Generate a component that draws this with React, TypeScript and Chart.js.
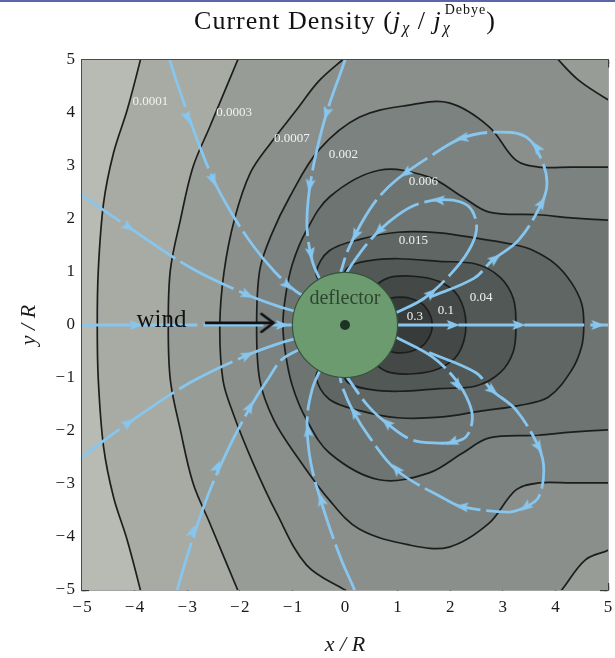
import React, { useEffect, useRef } from 'react';
import { Chart, registerables } from 'chart.js';

Chart.register(...registerables);

// ---------------- data ----------------
const MAJOR_TICKS = [-5, -4, -3, -2, -1, 0, 1, 2, 3, 4, 5];
const MINOR_TICKS = [-5, -4.5, -4, -3.5, -3, -2.5, -2, -1.5, -1, -0.5, 0, 0.5, 1, 1.5, 2, 2.5, 3, 3.5, 4, 4.5, 5];

const LEVEL_LABELS = ['0.0001', '0.0003', '0.0007', '0.002', '0.006', '0.015', '0.04', '0.1', '0.3'];
const LEVEL_LABEL_X = [-3.7, -2.11, -1.01, -0.03, 1.49, 1.3, 2.59, 1.92, 1.33];
const LEVEL_LABEL_Y = [4.21, 4.0, 3.51, 3.21, 2.7, 1.6, 0.51, 0.28, 0.15];

// region colours, outermost (lightest) to innermost (darkest)
const REGION_COLORS = ['#b7bbb3', '#a7aba4', '#989c97', '#8a8f8b', '#7c8280', '#6e7472', '#606664', '#525856', '#444948', '#373c3b'];

const FRAME = [[-6, 6], [6, 6], [6, -6], [-6, -6]];

const C1 = [[-3.85, 5.2], [-3.89, 5], [-4.14, 4.06], [-4.4, 3.25], [-4.59, 2.3], [-4.69, 1.04], [-4.71, 0], [-4.69, -1.04], [-4.59, -2.3], [-4.4, -3.25], [-4.14, -4.06], [-3.89, -5], [-3.85, -5.2]];
const C2 = [[-1.95, 5.2], [-2.04, 5], [-2.57, 3.74], [-2.89, 2.98], [-3.13, 1.98], [-3.32, 1.04], [-3.36, 0], [-3.32, -1.04], [-3.13, -1.98], [-2.89, -2.98], [-2.57, -3.74], [-2.04, -5], [-1.95, -5.2]];
const C3_ARC = [[0.15, 5.15], [-0.05, 5], [-0.5, 4.6], [-0.92, 4.06], [-1.4, 3.45], [-1.8, 2.87], [-2.1, 2.0], [-2.3, 1.0], [-2.38, 0], [-2.32, -1.04], [-2.13, -1.66], [-1.75, -2.6], [-1.3, -3.55], [-0.73, -4.53], [0, -5], [0.3, -5.15]];
const C3_CORNER_BOTTOM = [[3.95, -5.2], [4.12, -5], [4.57, -4.43], [5, -4.25], [5.3, -4.1]];
const C3_CORNER_TOP = [[5.3, 4.1], [5, 4.25], [4.44, 4.62], [4.06, 5], [3.9, 5.2]];
const C4 = [[5.3, 2.98], [5, 2.98], [4.3, 2.98], [3.68, 2.98], [3.25, 3.11], [2.74, 3.74], [1.98, 4.19], [1.22, 4.15], [0.27, 3.92], [-0.5, 3.3], [-1.05, 2.42], [-1.4, 1.7], [-1.62, 1.04], [-1.68, 0], [-1.62, -1.04], [-1.35, -1.8], [-0.9, -2.5], [-0.3, -3.3], [0.27, -3.85], [1.22, -4.15], [1.98, -4.19], [2.74, -3.74], [3.25, -3.11], [3.68, -2.98], [4.3, -2.98], [5, -2.98], [5.3, -2.98]];
const C5 = [[5.3, 1.98], [5, 1.98], [4.3, 2.02], [3.68, 2.08], [2.74, 2.13], [2.23, 2.42], [1.6, 2.79], [0.65, 2.92], [-0.29, 2.42], [-0.75, 1.75], [-1.0, 1.15], [-1.13, 0.55], [-1.18, 0], [-1.13, -0.55], [-1.0, -1.15], [-0.75, -1.75], [-0.29, -2.42], [0.65, -2.92], [1.6, -2.79], [2.23, -2.42], [2.74, -2.13], [3.68, -2.08], [4.3, -2.02], [5, -1.98], [5.3, -1.98]];
const C6 = [[-0.4, 0.7], [-0.55, 0.98], [-0.3, 1.4], [0.3, 1.62], [1.0, 1.75], [1.8, 1.74], [2.6, 1.62], [3.2, 1.52], [3.55, 1.42], [4.0, 1.15], [4.31, 0.79], [4.5, 0.4], [4.54, 0], [4.5, -0.4], [4.31, -0.85], [3.87, -1.36], [3.3, -1.52], [2.6, -1.62], [1.8, -1.74], [1.0, -1.75], [0.3, -1.62], [-0.3, -1.4], [-0.55, -0.98], [-0.4, -0.7]];
const C7 = [[-0.1, 0.7], [0.05, 1.08], [0.5, 1.22], [1.03, 1.25], [1.79, 1.2], [2.49, 1.15], [2.95, 0.9], [3.2, 0.5], [3.25, 0], [3.2, -0.5], [2.95, -0.9], [2.49, -1.15], [1.79, -1.2], [1.03, -1.25], [0.5, -1.22], [0.05, -1.08], [-0.1, -0.7]];
const C8 = [[0.4, 0.6], [0.8, 0.88], [1.3, 0.92], [1.79, 0.82], [2.15, 0.55], [2.3, 0], [2.15, -0.55], [1.79, -0.82], [1.3, -0.92], [0.8, -0.88], [0.4, -0.6]];
const C9 = [[0.7, 0.45], [0.95, 0.52], [1.25, 0.5], [1.52, 0.35], [1.66, 0], [1.52, -0.35], [1.25, -0.5], [0.95, -0.52], [0.7, -0.45]];

// streamlines (in flow order) and arrow-head positions on them
const S_A = [[-3.36, 5.2], [-3.33, 5], [-3.1, 4.3], [-2.85, 3.6], [-2.5, 2.74], [-2.15, 2.1], [-1.75, 1.5], [-1.35, 1.02], [-0.95, 0.65], [-0.7, 0.5]];
const S_B = [[0.05, 5.2], [0, 5], [-0.35, 4.0], [-0.58, 3.1], [-0.7, 2.36], [-0.72, 1.8], [-0.62, 1.2], [-0.45, 0.8]];
const S_C = [[-5.2, 2.6], [-5, 2.45], [-4.12, 1.85], [-2.95, 1.09], [-1.86, 0.57], [-1.2, 0.33], [-0.8, 0.22]];
const S_D = [[-5.2, 0], [-0.9, 0]];
const S_C2 = [[-5.2, -2.64], [-5, -2.49], [-4.12, -1.85], [-2.95, -1.09], [-1.86, -0.57], [-1.2, -0.33], [-0.8, -0.22]];
const S_A2 = [[-3.24, -5.2], [-3.19, -5], [-2.95, -4.2], [-2.6, -3.2], [-2.2, -2.3], [-1.8, -1.55], [-1.45, -1.0], [-1.2, -0.65], [-0.85, -0.45]];
const S_B2 = [[0.22, -5.2], [0.18, -5], [-0.07, -4.43], [-0.4, -3.5], [-0.65, -2.6], [-0.72, -1.8], [-0.62, -1.2], [-0.45, -0.8]];
const S_E = [[0.9, 0], [5.2, 0]];
const S_LOOP1_TOP = [[0.95, 0.22], [1.5, 0.5], [2.0, 0.95], [2.35, 1.4], [2.5, 1.8], [2.42, 2.15], [2.2, 2.32], [1.78, 2.36], [1.3, 2.25], [0.84, 1.95], [0.46, 1.58], [0.1, 1.1], [0.0, 0.92]];
const S_LOOP2_TOP = [[1.6, 0.52], [2.45, 0.88], [2.8, 1.22], [3.3, 1.6], [3.74, 2.3], [3.84, 2.68], [3.74, 3.11], [3.44, 3.55], [2.87, 3.64], [2.23, 3.53], [1.6, 3.17], [0.98, 2.74], [0.6, 2.36], [0.3, 1.9], [0.05, 1.4], [-0.08, 1.0]];
const S_LOOP1_BOT = [[0.95, -0.22], [1.66, -0.6], [2.11, -1.04], [2.36, -1.47], [2.42, -1.79], [2.3, -2.11], [2.04, -2.21], [1.79, -2.23], [1.28, -2.17], [0.84, -1.89], [0.46, -1.55], [0.08, -1.04], [0.0, -0.9]];
const S_LOOP2_BOT = [[1.6, -0.52], [2.49, -0.9], [2.79, -1.23], [3.25, -1.6], [3.68, -2.3], [3.78, -2.74], [3.68, -3.25], [3.44, -3.43], [3.12, -3.53], [2.23, -3.43], [1.93, -3.3], [0.98, -2.74], [0.46, -2.11], [0.14, -1.6], [-0.05, -1.17], [-0.1, -0.95]];

const STREAMLINES = [S_A, S_B, S_C, S_D, S_C2, S_A2, S_B2, S_E, S_LOOP1_TOP, S_LOOP2_TOP, S_LOOP1_BOT, S_LOOP2_BOT];
const ARROWS = [
  [[-3.0, 3.92], [-2.51, 2.74], [-1.1, 0.75]],
  [[-0.35, 4.0], [-0.67, 2.64], [-0.65, 1.35]],
  [[-4.12, 1.85], [-1.86, 0.57]],
  [[-3.98, 0], [-1.2, 0]],
  [[-4.12, -1.85], [-1.86, -0.57]],
  [[-2.9, -3.9], [-2.43, -2.68], [-1.81, -1.55]],
  [[-0.45, -3.3], [-0.7, -2.0]],
  [[2.05, 0], [3.3, 0], [4.8, 0]],
  [[1.64, 0.6], [1.78, 2.36], [0.65, 1.78]],
  [[2.85, 1.25], [3.74, 2.3], [3.65, 3.35], [2.23, 3.53], [1.16, 2.87], [0.2, 1.7]],
  [[2.13, -1.13], [2.04, -2.21], [0.8, -1.85]],
  [[2.8, -1.23], [3.68, -2.3], [3.44, -3.43], [2.23, -3.43], [0.98, -2.72], [0.18, -1.65]],
];

const WIND_ARROW = [[-2.66, 0.04], [-1.36, 0.04]];
const WIND_LABEL = { text: 'wind', x: -3.49, y: 0.09 };
const DEFLECTOR = { x: 0, y: 0, r: 1 };
const DEFLECTOR_LABEL = { text: 'deflector', x: 0, y: 0.49 };

const SERIF = '"Liberation Serif", "DejaVu Serif", serif';
const STREAM_COLOR = '#86c6ef';

// ---------------- helpers ----------------
const toXY = (a: number[][]) => a.map(([x, y]) => ({ x, y }));
const fmt = (v: number) => (v < 0 ? '\u2212\u200a' + Math.abs(v) : String(v));

function directionAt(line: number[][], p: number[]) {
  let best = 0;
  let bestD = Infinity;
  for (let i = 0; i < line.length - 1; i++) {
    const [x1, y1] = line[i];
    const [x2, y2] = line[i + 1];
    const dx = x2 - x1, dy = y2 - y1;
    const L = dx * dx + dy * dy || 1;
    let t = ((p[0] - x1) * dx + (p[1] - y1) * dy) / L;
    t = Math.max(0, Math.min(1, t));
    const qx = x1 + t * dx - p[0], qy = y1 + t * dy - p[1];
    const d = qx * qx + qy * qy;
    if (d < bestD) { bestD = d; best = i; }
  }
  const [x1, y1] = line[best];
  const [x2, y2] = line[best + 1];
  return (Math.atan2(x2 - x1, y2 - y1) * 180) / Math.PI;
}

function makeArrowHead(color: string) {
  const c = document.createElement('canvas');
  c.width = 12; c.height = 14;
  const g = c.getContext('2d')!;
  g.fillStyle = color;
  g.beginPath();
  g.moveTo(6, 0);
  g.lineTo(11, 13);
  g.lineTo(6, 10.5);
  g.lineTo(1, 13);
  g.closePath();
  g.fill();
  return c;
}

function makeChevron() {
  const c = document.createElement('canvas');
  c.width = 28; c.height = 28;
  const g = c.getContext('2d')!;
  g.strokeStyle = '#111';
  g.lineWidth = 2.6;
  g.lineCap = 'round';
  g.beginPath();
  g.moveTo(5, 26);
  g.lineTo(14, 14);
  g.lineTo(23, 26);
  g.stroke();
  return c;
}

function drawTitle(ctx: CanvasRenderingContext2D, cx: number, base: number) {
  const main = `26px ${SERIF}`;
  const ital = `italic 26px ${SERIF}`;
  const sub = `italic 16px ${SERIF}`;
  const sup = `14px ${SERIF}`;
  type Run = { t: string; f: string; dy: number; sup?: string };
  const runs: Run[] = [
    { t: 'Current Density (', f: main, dy: 0 },
    { t: 'j', f: ital, dy: 0 },
    { t: '\u03c7', f: sub, dy: 4 },
    { t: ' / ', f: main, dy: 0 },
    { t: 'j', f: ital, dy: 0 },
    { t: '\u03c7', f: sub, dy: 4, sup: 'Debye' },
    { t: ')', f: main, dy: 0 },
  ];
  (ctx as any).letterSpacing = '1px';
  const widths = runs.map((r) => {
    ctx.font = r.f;
    let w = ctx.measureText(r.t).width;
    if (r.sup) { ctx.font = sup; w = Math.max(w, ctx.measureText(r.sup).width + 2); }
    return w + (r.t === 'j' ? 1 : 0);
  });
  const total = widths.reduce((a, b) => a + b, 0);
  let x = cx - total / 2;
  ctx.fillStyle = '#111';
  ctx.textAlign = 'left';
  ctx.textBaseline = 'alphabetic';
  runs.forEach((r, i) => {
    ctx.font = r.f;
    ctx.fillText(r.t, x, base + r.dy);
    if (r.sup) { ctx.font = sup; ctx.fillText(r.sup, x + 2, base - 15); }
    x += widths[i];
  });
  (ctx as any).letterSpacing = '0px';
}

const textPlugin = {
  id: 'textLabels',
  afterDatasetsDraw(chart: any) {
    const { ctx, scales } = chart;
    const sx = scales.x, sy = scales.y;
    ctx.save();
    ctx.textAlign = 'center';
    ctx.textBaseline = 'middle';
    ctx.font = `13px ${SERIF}`;
    ctx.fillStyle = '#f2f2f2';
    LEVEL_LABELS.forEach((t, i) => {
      ctx.fillText(t, sx.getPixelForValue(LEVEL_LABEL_X[i]), sy.getPixelForValue(LEVEL_LABEL_Y[i]));
    });
    ctx.font = `25px ${SERIF}`;
    ctx.fillStyle = '#111';
    ctx.fillText(WIND_LABEL.text, sx.getPixelForValue(WIND_LABEL.x), sy.getPixelForValue(WIND_LABEL.y));
    ctx.font = `20px ${SERIF}`;
    ctx.fillStyle = '#2d452f';
    ctx.fillText(DEFLECTOR_LABEL.text, sx.getPixelForValue(DEFLECTOR_LABEL.x), sy.getPixelForValue(DEFLECTOR_LABEL.y));
    ctx.restore();
  },
  afterDraw(chart: any) {
    const { ctx, chartArea } = chart;
    ctx.save();
    drawTitle(ctx, (chartArea.left + chartArea.right) / 2, 27);
    ctx.restore();
  },
};

export default function App() {
  const ref = useRef<HTMLCanvasElement>(null);
  useEffect(() => {
    const canvas = ref.current!;
    const arrowImg = makeArrowHead(STREAM_COLOR);
    const chevron = makeChevron();

    const contour = (pts: number[][], fillColor: string) => ({
      type: 'line',
      data: toXY(pts),
      borderColor: '#1c1e1d',
      borderWidth: 1.7,
      backgroundColor: fillColor,
      fill: 'shape',
      pointRadius: 0,
      tension: 0.35,
    });

    const arrowPts: { x: number; y: number }[] = [];
    const arrowRot: number[] = [];
    STREAMLINES.forEach((s, i) => {
      ARROWS[i].forEach((p) => {
        arrowPts.push({ x: p[0], y: p[1] });
        arrowRot.push(directionAt(s, p));
      });
    });

    const datasets: any[] = [
      { type: 'line', data: [{ x: DEFLECTOR.x, y: DEFLECTOR.y }], showLine: false, pointRadius: 5, pointBackgroundColor: '#1d3324', pointBorderWidth: 0 },
      {
        type: 'line', data: [{ x: DEFLECTOR.x, y: DEFLECTOR.y }], showLine: false,
        pointRadius: (c: any) => { const s = c.chart.scales.x; return s.getPixelForValue(DEFLECTOR.r) - s.getPixelForValue(0); },
        pointBackgroundColor: '#6d9b70', pointBorderColor: '#34553a', pointBorderWidth: 1.2,
      },
      { type: 'line', data: toXY([WIND_ARROW[1]]), showLine: false, pointRadius: 6, pointStyle: chevron, rotation: directionAt(WIND_ARROW, WIND_ARROW[1]) },
      { type: 'line', data: toXY(WIND_ARROW), borderColor: '#111', borderWidth: 2.6, pointRadius: 0, fill: false },
      { type: 'line', data: arrowPts, showLine: false, pointRadius: 5, pointStyle: arrowImg, rotation: (c: any) => arrowRot[c.dataIndex] },
      ...STREAMLINES.map((s) => ({
        type: 'line', data: toXY(s), borderColor: STREAM_COLOR, borderWidth: 2.8, pointRadius: 0, fill: false,
        tension: 0.35, borderDash: [60, 6], borderCapStyle: 'butt',
      })),
      contour(C9, REGION_COLORS[9]),
      contour(C8, REGION_COLORS[8]),
      contour(C7, REGION_COLORS[7]),
      contour(C6, REGION_COLORS[6]),
      contour(C5, REGION_COLORS[5]),
      contour(C4, REGION_COLORS[4]),
      contour([...C3_ARC, ...C3_CORNER_BOTTOM, ...C3_CORNER_TOP], REGION_COLORS[3]),
      contour([...C2, FRAME[2], FRAME[1]], REGION_COLORS[2]),
      contour([...C1, FRAME[2], FRAME[1]], REGION_COLORS[1]),
      { type: 'line', data: toXY(FRAME), borderColor: 'transparent', borderWidth: 0, backgroundColor: REGION_COLORS[0], fill: 'shape', pointRadius: 0 },
    ];

    const tickFont = { family: SERIF, size: 17 };
    const hiddenAxis = (axis: 'x' | 'y', position: any, ticks: number[], tl: number, border: boolean) => ({
      type: 'linear', axis, position, min: -5, max: 5,
      afterBuildTicks: (s: any) => { s.ticks = ticks.map((v) => ({ value: v })); },
      ticks: { display: false },
      grid: { drawOnChartArea: false, drawTicks: true, tickLength: tl, tickColor: '#2a2a2a', tickWidth: 1.3 },
      border: { display: border, color: '#4a4a4a', width: 1.5 },
    });
    const zeroPad = (s: any) => { s.paddingLeft = 0; s.paddingRight = 0; s.paddingTop = 0; s.paddingBottom = 0; };

    const chart = new Chart(canvas, {
      type: 'line',
      data: { datasets },
      plugins: [textPlugin],
      options: {
        responsive: false,
        animation: false,
        events: [],
        layout: { padding: { top: 58, right: 6, left: 0, bottom: 0 } },
        plugins: { legend: { display: false }, tooltip: { enabled: false }, title: { display: false } },
        scales: {
          x: {
            type: 'linear', position: 'bottom', min: -5, max: 5,
            afterBuildTicks: (s: any) => { s.ticks = MAJOR_TICKS.map((v) => ({ value: v })); },
            afterFit: (s: any) => { s.height = 68; zeroPad(s); },
            ticks: { callback: (v: any) => fmt(Number(v)), font: tickFont, color: '#1a1a1a', padding: 14, maxRotation: 0, autoSkip: false },
            grid: { drawOnChartArea: false, drawTicks: true, tickLength: -7, tickColor: '#2a2a2a', tickWidth: 1.3 },
            border: { display: true, color: '#4a4a4a', width: 1.5 },
            title: { display: true, text: 'x / R', color: '#1a1a1a', font: { family: SERIF, size: 22, style: 'italic' }, padding: { top: 0, bottom: 0 } },
          },
          y: {
            type: 'linear', position: 'left', min: -5, max: 5,
            afterBuildTicks: (s: any) => { s.ticks = MAJOR_TICKS.map((v) => ({ value: v })); },
            afterFit: (s: any) => { s.width = 82; zeroPad(s); },
            ticks: { callback: (v: any) => fmt(Number(v)), font: tickFont, color: '#1a1a1a', padding: 14, autoSkip: false },
            grid: { drawOnChartArea: false, drawTicks: true, tickLength: -7, tickColor: '#2a2a2a', tickWidth: 1.3 },
            border: { display: true, color: '#4a4a4a', width: 1.5 },
            title: { display: true, text: 'y / R', color: '#1a1a1a', font: { family: SERIF, size: 22, style: 'italic' }, padding: { top: 16, bottom: 0 } },
          },
          xMinorBottom: hiddenAxis('x', { y: -5 }, MINOR_TICKS, -4, false),
          xTop: hiddenAxis('x', { y: 5 }, MAJOR_TICKS, 7, true),
          xMinorTop: hiddenAxis('x', { y: 5 }, MINOR_TICKS, 4, false),
          yMinorLeft: hiddenAxis('y', { x: -5 }, MINOR_TICKS, -4, false),
          yRight: hiddenAxis('y', { x: 5 }, MAJOR_TICKS, 7, true),
          yMinorRight: hiddenAxis('y', { x: 5 }, MINOR_TICKS, 4, false),
        } as any,
      } as any,
    } as any);
    return () => chart.destroy();
  }, []);

  return (
    <div style={{ position: 'fixed', left: 0, top: 0, width: 615, height: 658, background: '#fff', borderTop: '2px solid #5d64a8', boxSizing: 'border-box' }}>
      <canvas ref={ref} width={615} height={656} style={{ display: 'block', width: 615, height: 656 }} />
    </div>
  );
}
